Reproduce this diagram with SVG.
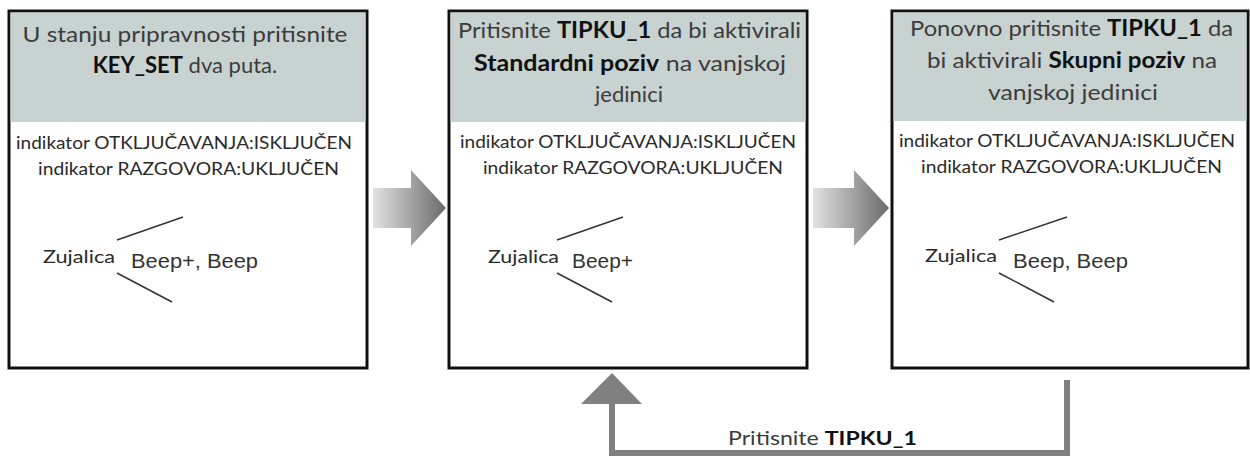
<svg xmlns="http://www.w3.org/2000/svg" width="1250" height="457" viewBox="0 0 1250 457">
<defs>
<style>
.box{fill:#fff;stroke:#111;stroke-width:3}
.hdr{fill:#c8d2d0}
.ht{font-family:Lato,"Open Sans",sans-serif;font-size:22px;fill:#3c3c3c;text-anchor:middle}
.ht .b{font-weight:bold;fill:#111}
.bt{font-family:Lato,"Open Sans",sans-serif;font-size:18px;fill:#2a2a2a}
.zt{font-family:Lato,"Open Sans",sans-serif;font-size:18px;fill:#2a2a2a}
.beep{font-family:"Liberation Sans",Arial,sans-serif;font-size:20px;fill:#333}
.br{stroke:#333;stroke-width:1.5;fill:none}
.conn{stroke:#808080;stroke-width:6;fill:none}
.lbl{font-family:Lato,"Open Sans",sans-serif;font-size:19px;fill:#3c3c3c}
.lbl .b{font-weight:bold;fill:#111}
</style>
<linearGradient id="g" x1="0" y1="0" x2="1" y2="0">
<stop offset="0" stop-color="#e2e2e2"/>
<stop offset="1" stop-color="#6a6a6a"/>
</linearGradient>
</defs>

<g id="node1">
<rect class="box" x="9" y="11" width="358" height="357"/>
<rect class="hdr" x="10.5" y="12.5" width="355" height="109.5"/>
<text class="ht" x="185" y="42" textLength="325" lengthAdjust="spacingAndGlyphs">U stanju pripravnosti pritisnite</text>
<text class="ht" x="185" y="73"><tspan class="b">KEY_SET</tspan> dva puta.</text>
<text class="bt" x="16" y="149" textLength="336" lengthAdjust="spacingAndGlyphs">indikator OTKLJUČAVANJA:ISKLJUČEN</text>
<text class="bt" x="38" y="175" textLength="301" lengthAdjust="spacingAndGlyphs">indikator RAZGOVORA:UKLJUČEN</text>
<text class="zt" x="43" y="263" textLength="72" lengthAdjust="spacingAndGlyphs">Zujalica</text>
<text class="beep" x="131" y="268" textLength="127" lengthAdjust="spacingAndGlyphs">Beep+, Beep</text>
<line class="br" x1="117" y1="240" x2="183" y2="217"/>
<line class="br" x1="117" y1="273" x2="172" y2="302"/>
</g>

<g id="node2">
<rect class="box" x="449" y="11" width="358" height="357"/>
<rect class="hdr" x="450.5" y="12.5" width="355" height="109.5"/>
<text class="ht" x="629.5" y="38" textLength="343" lengthAdjust="spacingAndGlyphs">Pritisnite <tspan class="b">TIPKU_1</tspan> da bi aktivirali</text>
<text class="ht" x="630" y="71" textLength="312" lengthAdjust="spacingAndGlyphs"><tspan class="b">Standardni poziv</tspan> na vanjskoj</text>
<text class="ht" x="629" y="102">jedinici</text>
<text class="bt" x="460" y="148" textLength="336" lengthAdjust="spacingAndGlyphs">indikator OTKLJUČAVANJA:ISKLJUČEN</text>
<text class="bt" x="483" y="174" textLength="300" lengthAdjust="spacingAndGlyphs">indikator RAZGOVORA:UKLJUČEN</text>
<text class="zt" x="488" y="263" textLength="71" lengthAdjust="spacingAndGlyphs">Zujalica</text>
<text class="beep" x="572" y="268" textLength="61" lengthAdjust="spacingAndGlyphs">Beep+</text>
<line class="br" x1="557" y1="240" x2="623" y2="217"/>
<line class="br" x1="557" y1="273" x2="612" y2="302"/>
</g>

<g id="node3">
<rect class="box" x="892" y="11" width="356" height="357"/>
<rect class="hdr" x="893.5" y="12.5" width="353" height="108.5"/>
<text class="ht" x="1071.5" y="36" textLength="323" lengthAdjust="spacingAndGlyphs">Ponovno pritisnite <tspan class="b">TIPKU_1</tspan> da</text>
<text class="ht" x="1072" y="68" textLength="290" lengthAdjust="spacingAndGlyphs">bi aktivirali <tspan class="b">Skupni poziv</tspan> na</text>
<text class="ht" x="1073" y="100" textLength="170" lengthAdjust="spacingAndGlyphs">vanjskoj jedinici</text>
<text class="bt" x="899" y="147" textLength="336" lengthAdjust="spacingAndGlyphs">indikator OTKLJUČAVANJA:ISKLJUČEN</text>
<text class="bt" x="921" y="173" textLength="301" lengthAdjust="spacingAndGlyphs">indikator RAZGOVORA:UKLJUČEN</text>
<text class="zt" x="925" y="262" textLength="72" lengthAdjust="spacingAndGlyphs">Zujalica</text>
<text class="beep" x="1013" y="268" textLength="115" lengthAdjust="spacingAndGlyphs">Beep, Beep</text>
<line class="br" x1="999" y1="240" x2="1067" y2="217"/>
<line class="br" x1="999" y1="273" x2="1054" y2="302"/>
</g>

<g id="connectors">
<path d="M373,188 H411 V170 L446,208 L411,246 V228 H373 Z" fill="url(#g)"/>
<path d="M813,188 H854 V170 L889,208 L854,246 V228 H813 Z" fill="url(#g)"/>
<path class="conn" d="M1067,380 V453 H612 V400"/>
<polygon points="612,373 642,404 581,404" fill="#808080"/>
<text class="lbl" x="728" y="445" textLength="189" lengthAdjust="spacingAndGlyphs">Pritisnite <tspan class="b">TIPKU_1</tspan></text>
</g>
</svg>
